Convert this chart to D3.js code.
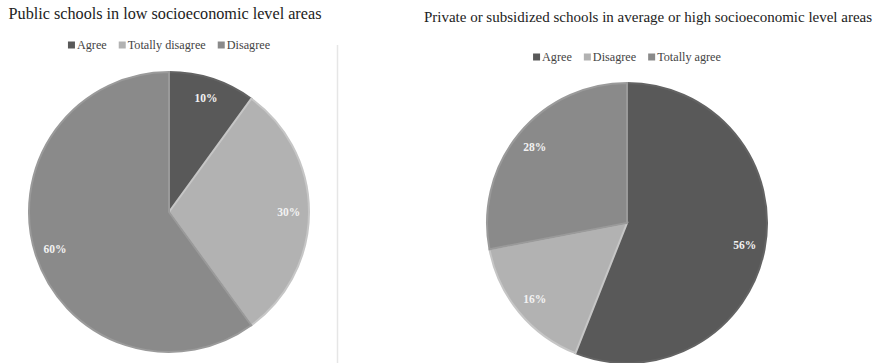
<!DOCTYPE html>
<html>
<head>
<meta charset="utf-8">
<script src="https://cdn.jsdelivr.net/npm/d3@7"></script>
<style>
  body { margin: 0; background: #fff; }
  svg text { font-family: "Liberation Serif", "Times New Roman", serif; }
</style>
</head>
<body>
<div id="chart"></div>
<script>
// chart data
var leftTitle = 'Public schools in low socioeconomic level areas';
var leftCategories = ['Agree', 'Totally disagree', 'Disagree'];
var leftValues = [10, 30, 60];

var rightTitle = 'Private or subsidized schools in average or high socioeconomic level areas';
var rightCategories = ['Agree', 'Disagree', 'Totally agree'];
var rightValues = [56, 16, 28];

var sliceColors = ['#595959', '#b2b2b2', '#8a8a8a'];

var width = 880, height = 363;

var svg = d3.select('#chart').append('svg')
    .attr('width', width)
    .attr('height', height);

// divider between the two charts
svg.append('line')
    .attr('x1', 337.5).attr('x2', 337.5)
    .attr('y1', 45).attr('y2', height)
    .attr('stroke', '#e6e6e6')
    .attr('stroke-width', 1.5);

function drawPie(opts) {
    var g = svg.append('g');

    g.append('text')
        .attr('x', opts.titleX)
        .attr('y', opts.titleY)
        .attr('text-anchor', 'middle')
        .attr('font-size', opts.titleSize)
        .attr('fill', '#222')
        .text(opts.title);

    // legend, centred over the pie
    var legend = g.append('g');
    var x = 0;
    opts.categories.forEach(function(c, i) {
        var item = legend.append('g').attr('transform', 'translate(' + x + ',0)');
        item.append('rect')
            .attr('x', 0).attr('y', -7.5)
            .attr('width', 7).attr('height', 7)
            .attr('fill', sliceColors[i]);
        var t = item.append('text')
            .attr('x', 9).attr('y', 0)
            .attr('font-size', 12.2)
            .attr('fill', '#444')
            .text(c);
        x += 9 + t.node().getComputedTextLength() + 12;
    });
    var lw = x - 12;
    legend.attr('transform', 'translate(' + (opts.cx - lw / 2) + ',' + opts.legendY + ')');

    var pie = d3.pie().sort(null).value(function(d) { return d; });
    var arc = d3.arc().innerRadius(0).outerRadius(opts.r - 1);
    var labelArc = d3.arc().innerRadius(opts.r * 0.85).outerRadius(opts.r * 0.85);
    var arcs = pie(opts.values);

    var pg = g.append('g').attr('transform', 'translate(' + opts.cx + ',' + opts.cy + ')');

    pg.selectAll('path')
        .data(arcs)
        .enter()
        .append('path')
        .attr('d', arc)
        .attr('fill', function(d, i) { return sliceColors[i]; })
        .attr('stroke', function(d, i) { return d3.color(sliceColors[i]).brighter(0.3); })
        .attr('stroke-width', 2);

    pg.selectAll('.lbl')
        .data(arcs)
        .enter()
        .append('text')
        .attr('class', 'lbl')
        .attr('transform', function(d) { return 'translate(' + labelArc.centroid(d) + ')'; })
        .attr('text-anchor', 'middle')
        .attr('dy', '0.35em')
        .attr('font-size', 11.5)
        .attr('font-weight', 'bold')
        .attr('fill', '#f2f2f2')
        .text(function(d) { return d.data + '%'; });
}

drawPie({
    title: leftTitle, categories: leftCategories, values: leftValues,
    cx: 169, cy: 212, r: 141, titleX: 165, titleY: 19, titleSize: 16.2, legendY: 49
});

drawPie({
    title: rightTitle, categories: rightCategories, values: rightValues,
    cx: 627, cy: 223, r: 141, titleX: 648, titleY: 22, titleSize: 15, legendY: 61
});
</script>
</body>
</html>
